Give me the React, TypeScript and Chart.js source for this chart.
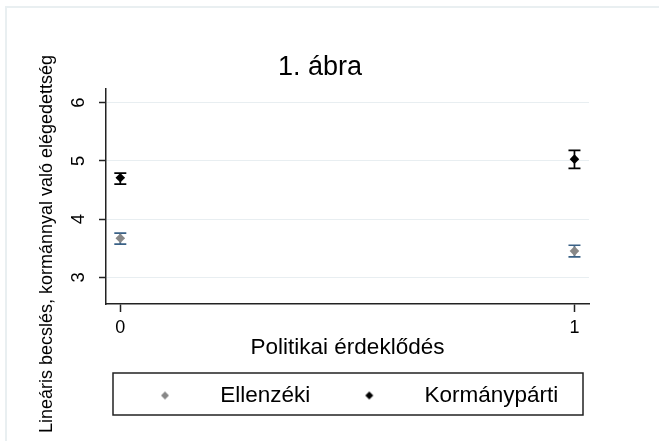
import React, { useEffect, useRef } from 'react';
import { Chart, registerables } from 'chart.js';

Chart.register(...registerables);

const titleText = '1. ábra';
const xAxisTitle = 'Politikai érdeklődés';
const yAxisTitle = 'Lineáris becslés, kormánnyal való elégedettség';
const categories = [0, 1];
const xTickValues = [0, 1];
const xTickLabels = ['0', '1'];
const yTickValues = [3, 4, 5, 6];
const yTickLabels = ['3', '4', '5', '6'];
const seriesNames = ['Ellenzéki', 'Kormánypárti'];
const ellenzekiEstimate = [3.67, 3.45];
const ellenzekiLower = [3.57, 3.35];
const ellenzekiUpper = [3.76, 3.55];
const kormanypartiEstimate = [4.71, 5.03];
const kormanypartiLower = [4.6, 4.87];
const kormanypartiUpper = [4.79, 5.18];

const FONT = "'Liberation Sans', Arial, sans-serif";

function diamondImage(color: string, half: number) {
  const c = document.createElement('canvas');
  const s = Math.ceil(half * 2) + 2;
  c.width = s;
  c.height = s;
  const g = c.getContext('2d')!;
  g.fillStyle = color;
  g.beginPath();
  g.moveTo(s / 2, s / 2 - half);
  g.lineTo(s / 2 + half, s / 2);
  g.lineTo(s / 2, s / 2 + half);
  g.lineTo(s / 2 - half, s / 2);
  g.closePath();
  g.fill();
  return c;
}

const errorBarPlugin = {
  id: 'errorBars',
  beforeDatasetsDraw(chart: any) {
    const { ctx } = chart;
    const x = chart.scales.x;
    const y = chart.scales.y;
    chart.data.datasets.forEach((ds: any) => {
      ctx.save();
      ctx.strokeStyle = ds.errorColor;
      ctx.lineWidth = 1.7;
      const cap = 6;
      ds.data.forEach((pt: any, j: number) => {
        const px = x.getPixelForValue(pt.x);
        const lo = y.getPixelForValue(ds.lower[j]);
        const hi = y.getPixelForValue(ds.upper[j]);
        ctx.beginPath();
        ctx.moveTo(px, lo);
        ctx.lineTo(px, hi);
        ctx.moveTo(px - cap, lo);
        ctx.lineTo(px + cap, lo);
        ctx.moveTo(px - cap, hi);
        ctx.lineTo(px + cap, hi);
        ctx.stroke();
      });
      ctx.restore();
    });
  },
};

const decorPlugin = {
  id: 'decor',
  afterDraw(chart: any) {
    const { ctx } = chart;
    const yScale = chart.scales.y;
    // rotated y tick labels (Stata style)
    ctx.save();
    ctx.fillStyle = '#000';
    ctx.font = `18.5px ${FONT}`;
    ctx.textAlign = 'center';
    ctx.textBaseline = 'middle';
    yTickValues.forEach((v, i) => {
      const py = yScale.getPixelForValue(v);
      ctx.save();
      ctx.translate(yScale.right - 27, py);
      ctx.rotate(-Math.PI / 2);
      ctx.fillText(yTickLabels[i], 0, 0);
      ctx.restore();
    });
    ctx.restore();
    // y axis title
    ctx.save();
    ctx.fillStyle = '#000';
    ctx.font = `18px ${FONT}`;
    ctx.textAlign = 'center';
    ctx.textBaseline = 'middle';
    ctx.translate(47.5, 244);
    ctx.rotate(-Math.PI / 2);
    ctx.fillText(yAxisTitle, 0, 0);
    ctx.restore();
    // legend frame
    const lg = chart.legend;
    if (lg) {
      ctx.save();
      ctx.strokeStyle = '#222';
      ctx.lineWidth = 1.5;
      ctx.strokeRect(lg.left + 7, lg.top + 3.75, lg.right - lg.left - 13, lg.bottom - lg.top - 5.5);
      ctx.restore();
    }
  },
};

export default function App() {
  const ref = useRef<HTMLCanvasElement | null>(null);

  useEffect(() => {
    if (!ref.current) return;
    const colors = ['#888888', '#000000'];
    const errColors = ['#3a6186', '#000000'];
    const legendImgs = colors.map((c) => diamondImage(c, 4));
    const chart = new Chart(ref.current, {
      type: 'scatter',
      data: {
        datasets: [
          {
            label: seriesNames[0],
            data: categories.map((c, i) => ({ x: c, y: ellenzekiEstimate[i] })),
            lower: ellenzekiLower,
            upper: ellenzekiUpper,
            errorColor: errColors[0],
            pointStyle: 'rectRot',
            pointRadius: 4.8,
            pointBorderWidth: 0,
            backgroundColor: colors[0],
            borderColor: colors[0],
          } as any,
          {
            label: seriesNames[1],
            data: categories.map((c, i) => ({ x: c, y: kormanypartiEstimate[i] })),
            lower: kormanypartiLower,
            upper: kormanypartiUpper,
            errorColor: errColors[1],
            pointStyle: 'rectRot',
            pointRadius: 4.8,
            pointBorderWidth: 0,
            backgroundColor: colors[1],
            borderColor: colors[1],
          } as any,
        ],
      },
      options: {
        animation: false,
        responsive: false,
        events: [],
        layout: { padding: { left: 51, right: 70, top: 0, bottom: 24.25 } },
        plugins: {
          tooltip: { enabled: false },
          title: {
            display: true,
            text: titleText,
            color: '#000',
            font: { family: FONT, size: 27, weight: 'normal' },
            padding: { top: 51.3, bottom: 4.6 },
          },
          legend: {
            position: 'bottom',
            align: 'start',
            fullSize: false,
            labels: {
              usePointStyle: true,
              pointStyleWidth: 88,
              padding: 15,
              color: '#000',
              font: { family: FONT, size: 22.5 },
              generateLabels: (ch: any) =>
                ch.data.datasets.map((ds: any, i: number) => ({
                  text: ds.label,
                  pointStyle: legendImgs[i],
                  fillStyle: ds.backgroundColor,
                  strokeStyle: ds.backgroundColor,
                  lineWidth: 0,
                  hidden: false,
                  datasetIndex: i,
                  fontColor: '#000',
                })),
            },
          },
        },
        scales: {
          x: {
            type: 'linear',
            min: -0.0315,
            max: 1.032,
            afterBuildTicks: (s: any) => {
              s.ticks = xTickValues.map((v) => ({ value: v }));
            },
            afterFit: (s: any) => {
              s.height = 65.25;
            },
            ticks: {
              color: '#000',
              font: { family: FONT, size: 18 },
              padding: 5.7,
              maxRotation: 0,
              callback: (v: any) => xTickLabels[xTickValues.indexOf(Number(v))] ?? '',
            },
            grid: {
              display: true,
              drawOnChartArea: false,
              drawTicks: true,
              tickLength: 8,
              tickColor: '#222',
              tickWidth: 1.5,
            },
            border: { display: true, color: '#222', width: 1.5 },
            title: {
              display: true,
              text: xAxisTitle,
              color: '#000',
              font: { family: FONT, size: 22.5 },
              padding: { top: 0, bottom: 8.15 },
            },
          },
          y: {
            type: 'linear',
            min: 2.541,
            max: 6.247,
            afterBuildTicks: (s: any) => {
              s.ticks = yTickValues.map((v) => ({ value: v }));
            },
            afterFit: (s: any) => {
              s.width = 55;
            },
            ticks: {
              display: false,
            },
            grid: {
              display: true,
              drawOnChartArea: true,
              color: '#e8eef1',
              lineWidth: 1,
              drawTicks: true,
              tickLength: 7,
              tickColor: '#222',
              tickWidth: 1.5,
            },
            border: { display: true, color: '#222', width: 1.5 },
          },
        },
      },
      plugins: [errorBarPlugin, decorPlugin],
    } as any);
    return () => chart.destroy();
  }, []);

  return (
    <div style={{ position: 'absolute', left: 0, top: 0, width: 659, height: 441, background: '#fff' }}>
      <div
        style={{
          position: 'absolute',
          left: 5,
          top: 6,
          right: 0,
          bottom: 0,
          borderTop: '2px solid #e9eff1',
          borderLeft: '2px solid #e9eff1',
        }}
      />
      <canvas ref={ref} width={659} height={441} style={{ position: 'absolute', left: 0, top: 0, width: 659, height: 441 }} />
    </div>
  );
}
